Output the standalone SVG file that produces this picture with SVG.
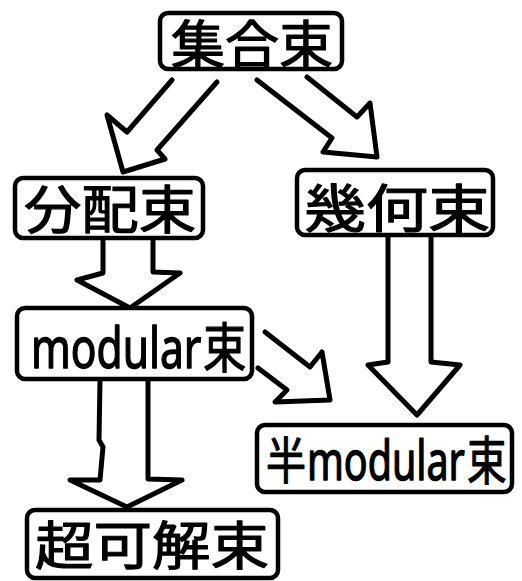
<svg xmlns="http://www.w3.org/2000/svg" width="522" height="581" viewBox="0 0 522 581">
<style>
.box{fill:#fff;stroke:#000;stroke-width:4.5;stroke-linejoin:round}
.lbl{font-family:"Noto Sans CJK JP","Noto Sans",sans-serif;font-weight:normal;fill:#000;stroke:#000;stroke-width:1.2;stroke-linejoin:round}
.lat{font-family:"Noto Sans","Noto Sans CJK JP",sans-serif;font-weight:normal;fill:#000;stroke:#000;stroke-width:1.4;stroke-linejoin:round}
.arr{fill:none;stroke:#000;stroke-width:5;stroke-linejoin:round;stroke-linecap:round}
</style>
<rect width="522" height="581" fill="#fff"/>
<g id="connectors">
<polyline class="arr" points="172,80 127,132 107,115 123,172 165,159 157,150 217,82"/>
<polyline class="arr" points="257,80 332,138 323,152 377,157 370,103 357,117 307,77"/>
<polyline class="arr" points="103,238 103,273 77,280 130,308 180,273 153,272 153,238"/>
<polyline class="arr" points="388,236 388,362 368,365 417,415 460,365 431,362 431,236"/>
<polyline class="arr" points="100,379 99,440 103,447 100,480 70,480 127,507 182,480 148,479 148,379"/>
<polyline class="arr" points="265,332 310,367 322,352 330,400 275,402 287,390 258,368"/>
</g>
<g id="node-shugo">
<rect class="box" x="160" y="13" width="182" height="56" rx="8"/>
<text class="lbl" x="171" y="64" font-size="52" textLength="162" lengthAdjust="spacingAndGlyphs">集合束</text>
</g>
<g id="node-bunpai">
<rect class="box" x="15" y="178" width="188" height="60" rx="8"/>
<text class="lbl" x="24" y="229" font-size="52" textLength="172" lengthAdjust="spacingAndGlyphs">分配束</text>
</g>
<g id="node-kika">
<rect class="box" x="297" y="170" width="196" height="65" rx="8"/>
<text class="lbl" x="304" y="228" font-size="52" textLength="186" lengthAdjust="spacingAndGlyphs">幾何束</text>
</g>
<g id="node-modular">
<rect class="box" x="17" y="308" width="235" height="71" rx="8"/>
<text class="lat" transform="translate(31,368) scale(0.76,1)" font-size="56">modular</text>
<text class="lbl" transform="translate(203,368) scale(0.8,1)" font-size="54">束</text>
</g>
<g id="node-semimodular">
<rect class="box" x="257" y="425" width="255" height="67" rx="8"/>
<text class="lbl" transform="translate(266,479) scale(0.8,1)" font-size="50">半</text>
<text class="lat" transform="translate(307,480) scale(0.73,1)" font-size="54">modular</text>
<text class="lbl" transform="translate(467,480) scale(0.76,1)" font-size="52">束</text>
</g>
<g id="node-chokakai">
<rect class="box" x="27" y="510" width="251" height="68" rx="8"/>
<text class="lbl" x="35" y="565" font-size="52" textLength="234" lengthAdjust="spacingAndGlyphs">超可解束</text>
</g>
</svg>
